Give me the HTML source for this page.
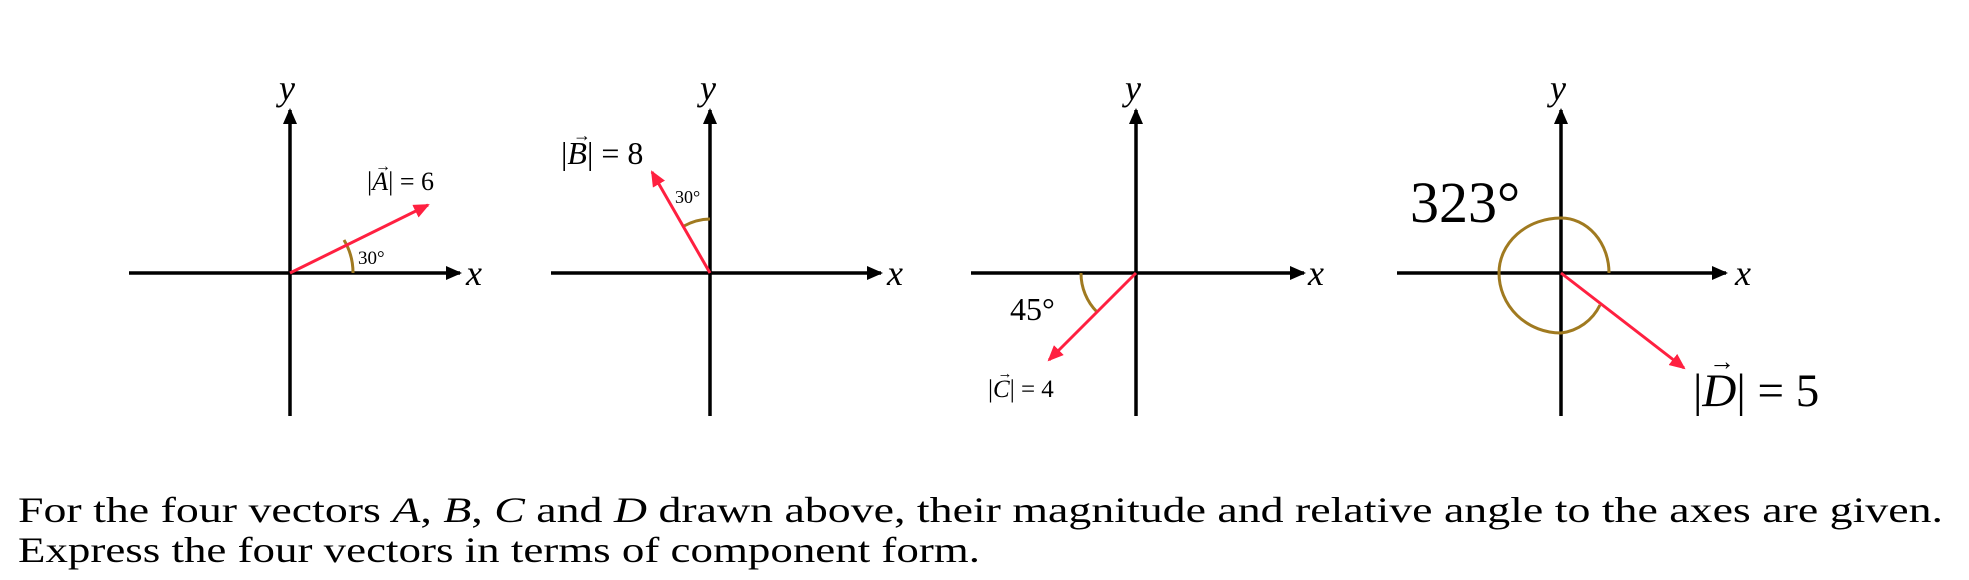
<!DOCTYPE html>
<html><head><meta charset="utf-8"><style>
html,body{margin:0;padding:0;background:#fff;}
svg{display:block;}
text{font-family:"Liberation Serif",serif;fill:#000;}
.it{font-style:italic;}
</style></head><body>
<svg width="1969" height="580" viewBox="0 0 1969 580" xmlns="http://www.w3.org/2000/svg">
<defs>
<marker id="ak" markerWidth="16" markerHeight="14" refX="14" refY="7" orient="auto" markerUnits="userSpaceOnUse"><path d="M0,0 L16,7 L0,14 z" fill="#000"/></marker>
<marker id="ar" markerWidth="16" markerHeight="14" refX="14" refY="7" orient="auto" markerUnits="userSpaceOnUse"><path d="M0,0 L16,7 L0,14 z" fill="#ff2040"/></marker>
</defs>
<g stroke="#000" stroke-width="3.5" fill="none">
<line x1="129" y1="273" x2="460" y2="273" marker-end="url(#ak)"/>
<line x1="290" y1="416" x2="290" y2="110" marker-end="url(#ak)"/>
<line x1="551" y1="273" x2="881" y2="273" marker-end="url(#ak)"/>
<line x1="710" y1="416" x2="710" y2="110" marker-end="url(#ak)"/>
<line x1="971" y1="273" x2="1304" y2="273" marker-end="url(#ak)"/>
<line x1="1136" y1="416" x2="1136" y2="110" marker-end="url(#ak)"/>
<line x1="1397" y1="273" x2="1726" y2="273" marker-end="url(#ak)"/>
<line x1="1561" y1="416" x2="1561" y2="110" marker-end="url(#ak)"/>
</g>
<g stroke="#a07a20" stroke-width="3" fill="none">
<path d="M353 273 A64 64 0 0 0 344 240"/>
<path d="M710 219 A56 56 0 0 0 684 226"/>
<path d="M1081 273 A55 55 0 0 0 1097 312"/>
<path d="M1609 273 A48 55 0 0 0 1561 218 A62 55 0 0 0 1499 273 A62 60 0 0 0 1561 333 A50 50 0 0 0 1600 305"/>
</g>
<g stroke="#ff2040" stroke-width="3" fill="none">
<line x1="290" y1="273" x2="428" y2="205" marker-end="url(#ar)"/>
<line x1="710" y1="273" x2="652" y2="172" marker-end="url(#ar)"/>
<line x1="1136" y1="273" x2="1049" y2="360" marker-end="url(#ar)"/>
<line x1="1561" y1="273" x2="1684" y2="368" marker-end="url(#ar)"/>
</g>
<g font-size="36">
<text x="279" y="100" class="it">y</text>
<text x="466" y="285" class="it">x</text>
<text x="700" y="100" class="it">y</text>
<text x="887" y="285" class="it">x</text>
<text x="1125" y="100" class="it">y</text>
<text x="1308" y="285" class="it">x</text>
<text x="1550" y="100" class="it">y</text>
<text x="1735" y="285" class="it">x</text>
</g>
<text x="367" y="190" font-size="26">|<tspan class="it">A</tspan>| = 6</text>
<text x="383" y="190" font-size="16" text-anchor="middle" dy="-19">→</text>
<text x="358" y="264" font-size="19">30°</text>
<text x="561" y="164" font-size="32">|<tspan class="it">B</tspan>| = 8</text>
<text x="582" y="164" font-size="18" text-anchor="middle" dy="-23">→</text>
<text x="675" y="203" font-size="18">30°</text>
<text x="1010" y="320" font-size="32">45°</text>
<text x="988" y="397" font-size="25">|<tspan class="it">C</tspan>| = 4</text>
<text x="1005" y="397" font-size="15" text-anchor="middle" dy="-19">→</text>
<text x="1410" y="222" font-size="58">323°</text>
<text x="1693" y="406" font-size="47">|<tspan class="it">D</tspan>| = 5</text>
<text x="1722" y="406" font-size="26" text-anchor="middle" dy="-36">→</text>
<text x="18" y="522" font-size="36" textLength="1925" lengthAdjust="spacingAndGlyphs">For the four vectors <tspan class="it">A</tspan>, <tspan class="it">B</tspan>, <tspan class="it">C</tspan> and <tspan class="it">D</tspan> drawn above, their magnitude and relative angle to the axes are given.</text>
<text x="18" y="562" font-size="36" textLength="962" lengthAdjust="spacingAndGlyphs">Express the four vectors in terms of component form.</text>
</svg>
</body></html>
